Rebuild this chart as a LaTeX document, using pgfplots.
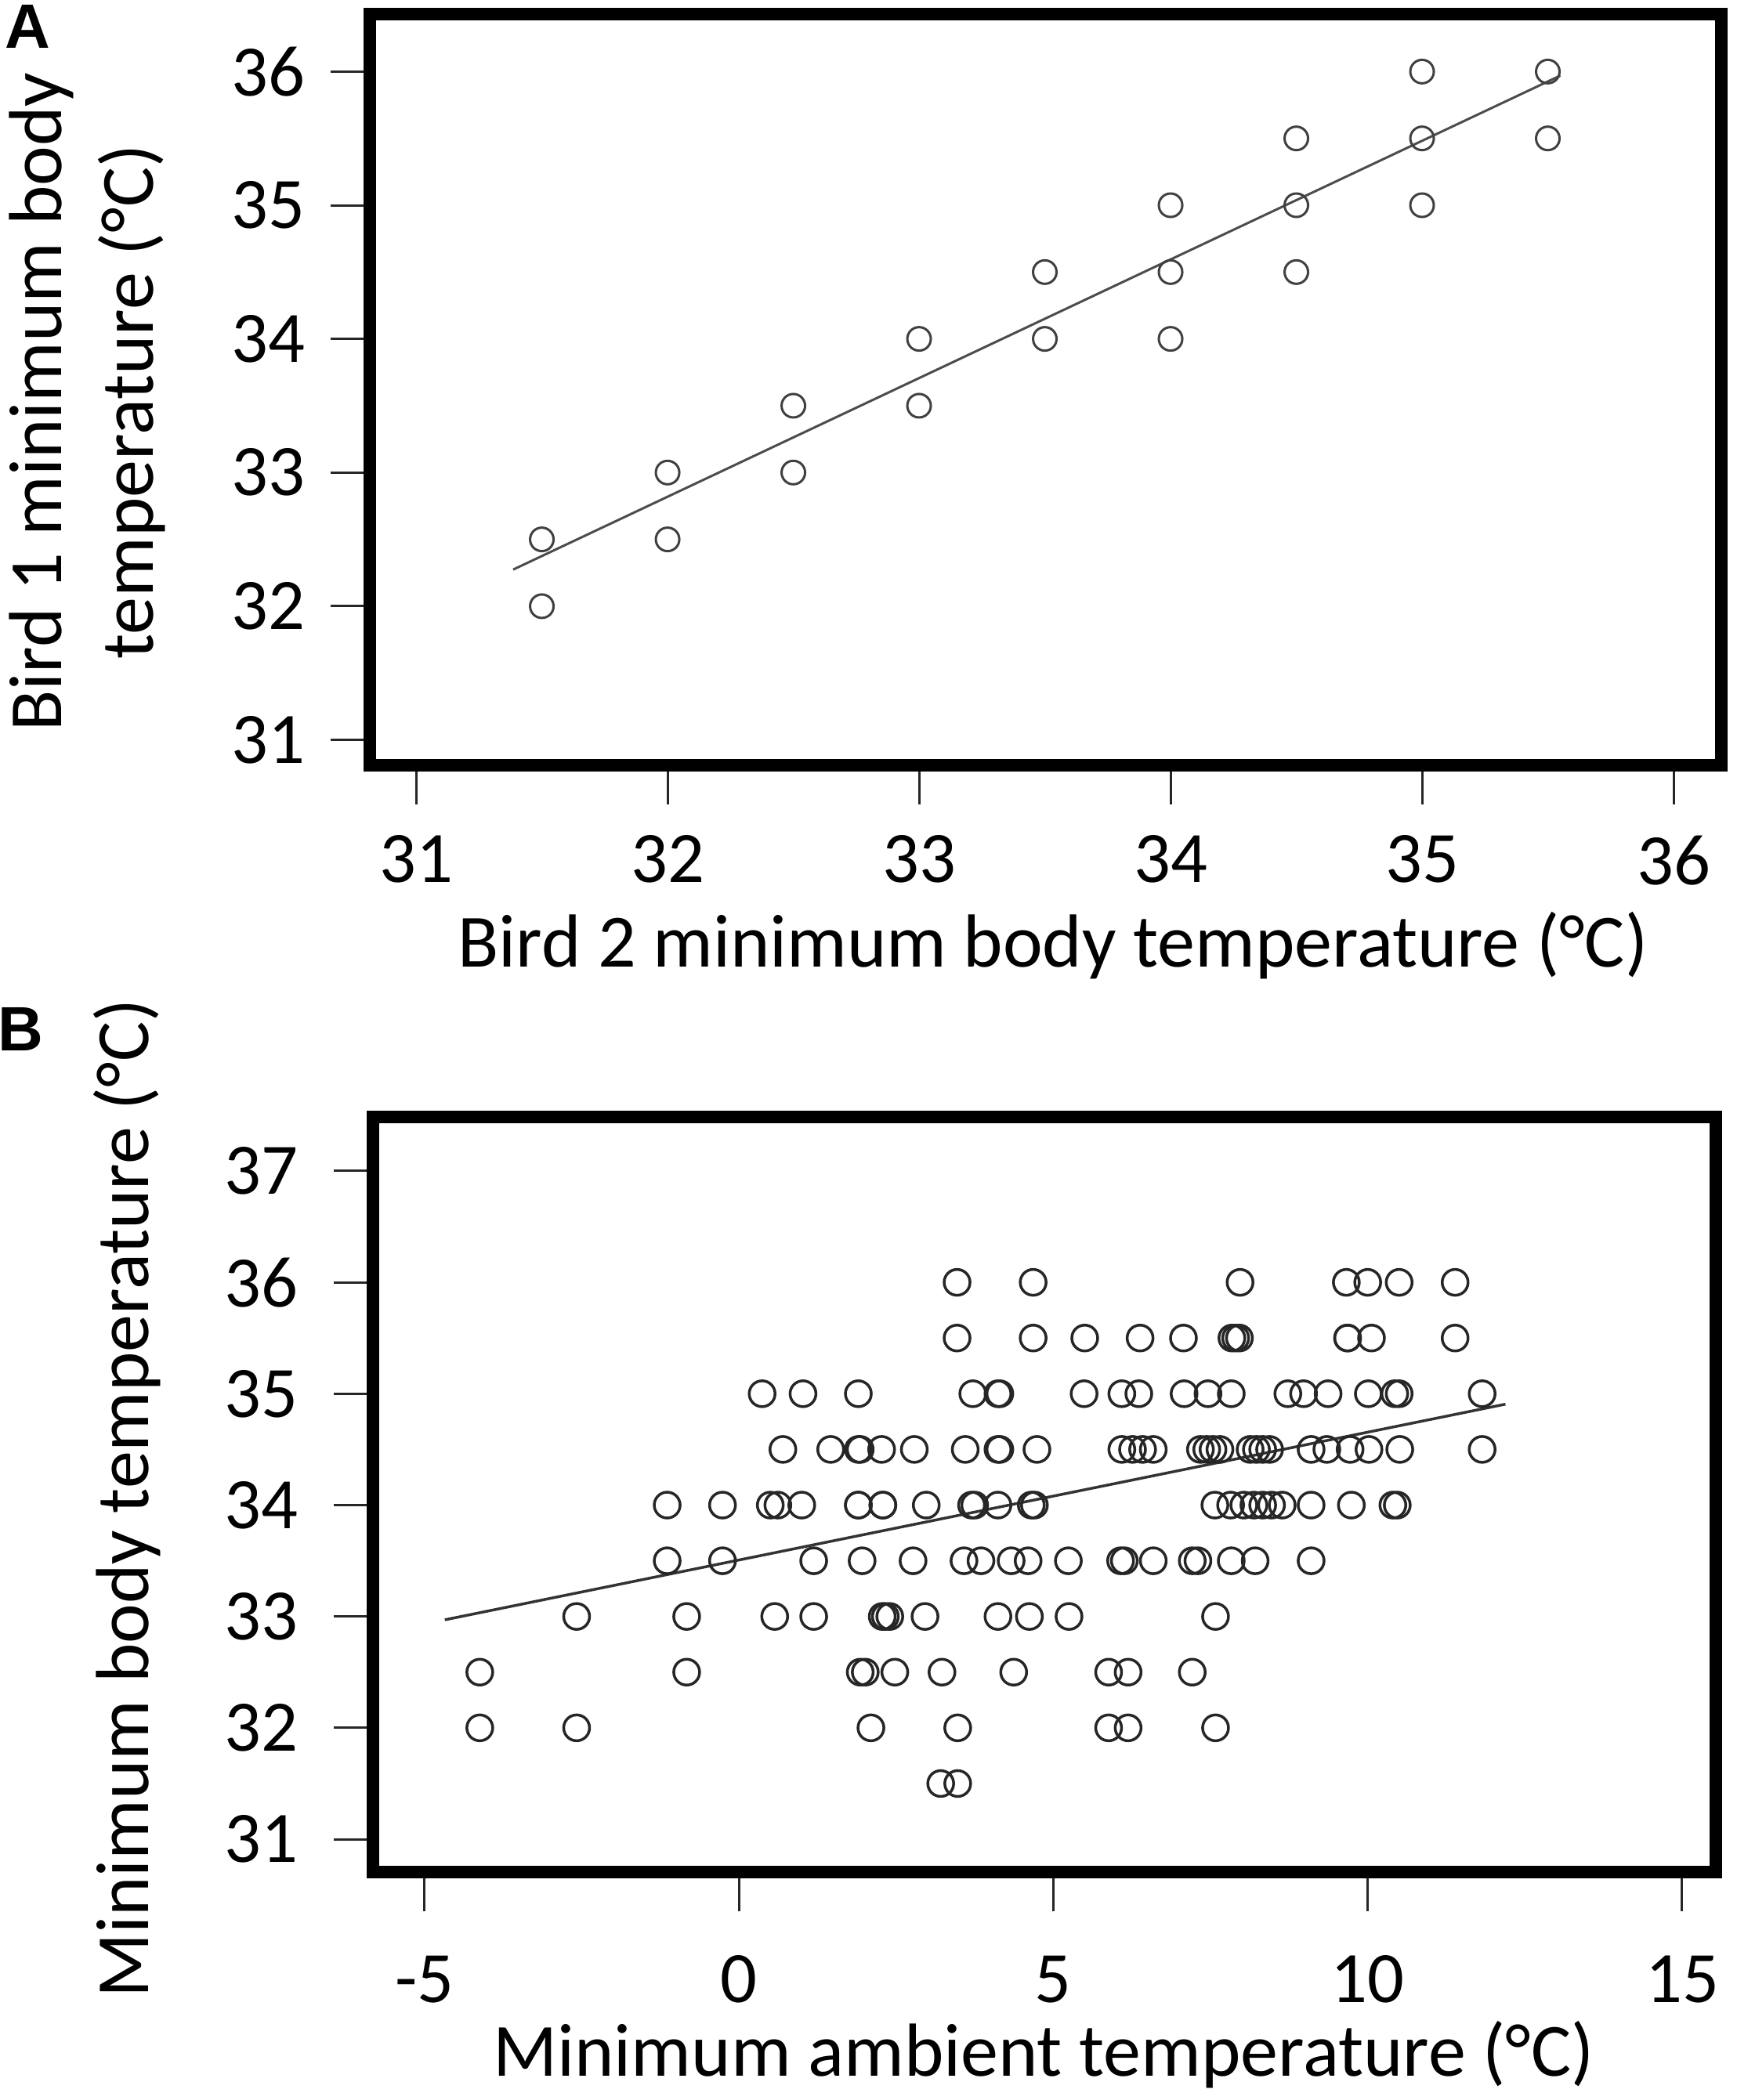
\documentclass[border=0pt]{standalone}
\usepackage{fontspec}
\setmainfont{Carlito}
\newfontfamily\labfont{Liberation Sans}
\usepackage{pgfplots}
\pgfplotsset{compat=1.18}
\begin{document}
\begin{tikzpicture}[font=\fontsize{19.2}{23}\selectfont]
\path[use as bounding box] (0,0) rectangle (443.4pt,536.2pt);
\pgfplotsset{
  rstyle/.style={
    anchor=south west, scale only axis,
    axis line style={line width=3.2pt, black},
    tick pos=left, tick align=outside,
    major tick length=10pt,
    major tick style={line width=0.6pt, black!85},
    tick label style={font=\fontsize{18.5}{22}\selectfont},
  }
}
% ---------------- Panel A ----------------
\begin{axis}[rstyle,
  at={(94.4pt,340.8pt)}, width=345pt, height=191.8pt,
  xmin=30.816, xmax=36.19, ymin=30.81, ymax=36.43,
  xtick={31,32,33,34,35,36}, ytick={31,32,33,34,35,36},
  xticklabels={31,32,33,34,35,36}, yticklabels={31,32,33,34,35,36},
  xticklabel style={yshift=-4.4pt},
  yticklabel style={xshift=-3pt},
]
\addplot[only marks, mark=o, mark size=3.0pt, mark options={line width=0.6pt, draw=black!75}] coordinates {
(31.5,32.5) (31.5,32)
(32,33) (32,32.5)
(32.5,33.5) (32.5,33)
(33,34) (33,33.5)
(33.5,34.5) (33.5,34)
(34,35) (34,34.5) (34,34)
(34.5,35.5) (34.5,35) (34.5,34.5)
(35,36) (35,35.5) (35,35)
(35.5,36) (35.5,35.5)
};
\addplot[black!70, line width=0.6pt] coordinates {(31.386,32.274) (35.55,35.97)};
\end{axis}
% ---------------- Panel B ----------------
\begin{axis}[rstyle,
  at={(95.2pt,58.2pt)}, width=342.8pt, height=192.8pt,
  xmin=-5.819, xmax=15.536, ymin=30.705, ymax=37.485,
  xtick={-5,0,5,10,15}, ytick={31,32,33,34,35,36,37},
  xticklabels={-5,0,5,10,15}, yticklabels={31,32,33,34,35,36,37},
  xticklabel style={yshift=-7.8pt},
  yticklabel style={xshift=-5.6pt},
]
\addplot[only marks, mark=o, mark size=3.3pt, mark options={line width=0.7pt, draw=black!85}] coordinates {
(3.47,36) (4.68,36) (7.97,36) (9.66,36) (10.0,36) (10.5,36) (11.39,36)
(3.47,35.5) (4.68,35.5) (5.50,35.5) (6.38,35.5) (7.07,35.5) (7.84,35.5) (7.90,35.5) (7.96,35.5) (9.68,35.5) (9.68,35.5) (10.06,35.5) (11.39,35.5)
(0.37,35) (1.02,35) (1.90,35) (3.72,35) (4.12,35) (4.15,35) (5.49,35) (6.09,35) (6.36,35) (7.08,35) (7.46,35) (7.83,35) (8.73,35) (8.98,35) (9.37,35) (10.01,35) (10.43,35) (10.50,35) (11.82,35)
(0.70,34.5) (1.46,34.5) (1.90,34.5) (1.93,34.5) (2.27,34.5) (2.79,34.5) (3.60,34.5) (4.12,34.5) (4.15,34.5) (4.74,34.5) (6.09,34.5) (6.26,34.5) (6.42,34.5) (6.59,34.5) (7.34,34.5) (7.44,34.5) (7.54,34.5) (7.65,34.5) (8.13,34.5) (8.23,34.5) (8.33,34.5) (8.44,34.5) (9.10,34.5) (9.35,34.5) (9.72,34.5) (10.02,34.5) (10.51,34.5) (11.82,34.5)
(-1.14,34) (-0.26,34) (0.50,34) (0.62,34) (1.00,34) (1.90,34) (1.90,34) (2.29,34) (2.29,34) (2.98,34) (3.70,34) (3.75,34) (4.12,34) (4.65,34) (4.70,34) (7.57,34) (7.82,34) (8.03,34) (8.19,34) (8.33,34) (8.47,34) (8.64,34) (9.10,34) (9.74,34) (10.40,34) (10.47,34)
(-1.14,33.5) (-0.26,33.5) (1.19,33.5) (1.96,33.5) (2.77,33.5) (3.58,33.5) (3.85,33.5) (4.33,33.5) (4.60,33.5) (5.24,33.5) (6.07,33.5) (6.13,33.5) (6.59,33.5) (7.21,33.5) (7.30,33.5) (7.83,33.5) (8.21,33.5) (9.10,33.5)
(-2.58,33) (-0.83,33) (0.57,33) (1.19,33) (2.28,33) (2.33,33) (2.40,33) (2.96,33) (4.12,33) (4.62,33) (5.25,33) (7.58,33)
(-4.12,32.5) (-0.83,32.5) (1.93,32.5) (2.01,32.5) (2.48,32.5) (3.23,32.5) (4.37,32.5) (5.88,32.5) (6.19,32.5) (7.21,32.5)
(-4.12,32) (-2.58,32) (2.10,32) (3.48,32) (5.88,32) (6.19,32) (7.58,32)
(3.21,31.5) (3.48,31.5)
};
\addplot[black!80, line width=0.7pt] coordinates {(-4.676,32.97) (12.19,34.906)};
\end{axis}
% ---------------- Labels ----------------
\node[font=\labfont\bfseries\fontsize{16}{18}\selectfont, anchor=base west, inner sep=0pt] at (1pt,523.8pt) {A};
\node[font=\labfont\bfseries\fontsize{16}{18}\selectfont, anchor=base west, inner sep=0pt] at (-0.6pt,267.8pt) {B};
\node[anchor=base, inner sep=0pt] at (268.8pt,289.2pt) {Bird 2 minimum body temperature (°C)};
\node[rotate=90, anchor=base, inner sep=0pt] at (15.6pt,433.6pt) {Bird 1 minimum body};
\node[rotate=90, anchor=base, inner sep=0pt] at (39pt,433.6pt) {temperature (°C)};
\node[rotate=90, anchor=base, inner sep=0pt] at (37.8pt,153.6pt) {Minimum body temperature (°C)};
\node[anchor=base, inner sep=0pt] at (266.4pt,6pt) {Minimum ambient temperature (°C)};
\end{tikzpicture}
\end{document}
